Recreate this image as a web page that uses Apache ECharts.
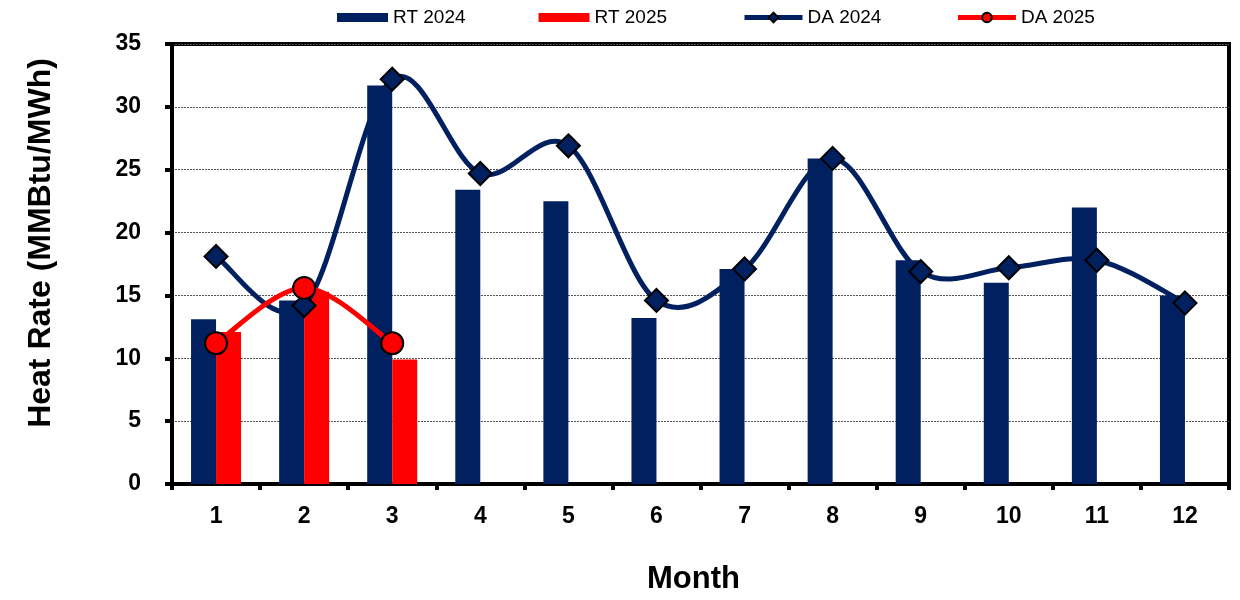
<!DOCTYPE html>
<html>
<head>
<meta charset="utf-8">
<title>Heat Rate by Month</title>
<script src="https://cdn.jsdelivr.net/npm/echarts@6/dist/echarts.min.js"></script>
<style>
  html, body { margin: 0; padding: 0; background: #ffffff; }
  #chart { width: 1240px; height: 600px; }
</style>
</head>
<body>
<div id="chart"></div>
<script>
// Months on the category axis
const months = ['1', '2', '3', '4', '5', '6', '7', '8', '9', '10', '11', '12'];

// Real-time heat rates (bars)
const rt2024 = [13.1, 14.6, 31.7, 23.4, 22.5, 13.2, 17.1, 25.9, 17.8, 16.0, 22.0, 15.0];
const rt2025 = [12.1, 15.3, 9.9, null, null, null, null, null, null, null, null, null];

// Day-ahead heat rates (smoothed lines with markers)
const da2024 = [18.1, 14.2, 32.2, 24.7, 26.9, 14.6, 17.1, 25.9, 16.9, 17.2, 17.8, 14.4];
const da2025 = [11.2, 15.6, 11.2, null, null, null, null, null, null, null, null, null];

// Value axis ticks
const yTicks = { min: 0, max: 35, step: 5 };

const NAVY = '#002060';
const RED = '#ff0000';
const FONT = 'Liberation Sans, Arial, sans-serif';

// Cardinal (Catmull-Rom style) curve: each data item draws the segment to the
// next point, with tangents taken from its neighbours in pixel space.
function curveSeries(id, values, color, z) {
  const has = j => j >= 0 && j < values.length && values[j] != null;
  return {
    id: id,
    type: 'custom',
    silent: true,
    z: z,
    clip: true,
    data: values.map((v, i) => [i, v == null ? '-' : v]),
    encode: { x: 0, y: 1 },
    renderItem: function (params, api) {
      const i = params.dataIndex;
      if (!has(i) || !has(i + 1)) return null;
      const c = j => api.coord([j, values[j]]);
      const p1 = c(i);
      const p2 = c(i + 1);
      const p0 = has(i - 1) ? c(i - 1) : p1;
      const p3 = has(i + 2) ? c(i + 2) : p2;
      return {
        type: 'bezierCurve',
        shape: {
          x1: p1[0], y1: p1[1],
          x2: p2[0], y2: p2[1],
          cpx1: p1[0] + (p2[0] - p0[0]) / 6,
          cpy1: p1[1] + (p2[1] - p0[1]) / 6,
          cpx2: p2[0] - (p3[0] - p1[0]) / 6,
          cpy2: p2[1] - (p3[1] - p1[1]) / 6
        },
        style: { stroke: color, lineWidth: 5, fill: null, lineCap: 'round' }
      };
    }
  };
}

const chart = echarts.init(document.getElementById('chart'), null, { renderer: 'canvas' });

chart.setOption({
  animation: false,
  backgroundColor: '#ffffff',
  textStyle: { fontFamily: FONT, color: '#000' },
  legend: [
    {
      data: ['RT 2024', 'RT 2025'],
      left: 332,
      top: 3,
      itemWidth: 51,
      itemHeight: 9,
      itemGap: 73,
      icon: 'rect',
      textStyle: { fontFamily: FONT, fontSize: 19, color: '#000' }
    },
    {
      data: ['DA 2024', 'DA 2025'],
      left: 737,
      top: 3,
      itemWidth: 58,
      itemHeight: 12,
      itemGap: 74,
      lineStyle: { width: 5, opacity: 1 },
      textStyle: { fontFamily: FONT, fontSize: 19, color: '#000' }
    }
  ],
  grid: {
    left: 172,
    right: 11,
    top: 44,
    bottom: 113,
    show: true,
    borderColor: '#000',
    borderWidth: 4,
    backgroundColor: 'transparent'
  },
  xAxis: {
    type: 'category',
    data: months,
    boundaryGap: true,
    name: 'Month',
    nameLocation: 'middle',
    nameGap: 80,
    nameTextStyle: { fontFamily: FONT, fontSize: 31, fontWeight: 'bold', color: '#000', padding: [0, 14, 0, 0] },
    axisLine: { show: true, lineStyle: { color: '#000', width: 4 } },
    axisTick: { show: true, inside: false, length: 6, alignWithLabel: false, lineStyle: { color: '#000', width: 4 } },
    axisLabel: { fontFamily: FONT, fontSize: 23, fontWeight: 'bold', color: '#000', margin: 21 },
    splitLine: { show: false }
  },
  yAxis: {
    type: 'value',
    min: yTicks.min,
    max: yTicks.max,
    interval: yTicks.step,
    axisLine: { show: true, lineStyle: { color: '#000', width: 4 } },
    axisTick: { show: true, inside: false, length: 7, lineStyle: { color: '#000', width: 4 } },
    axisLabel: { fontFamily: FONT, fontSize: 23, fontWeight: 'bold', color: '#000', margin: 31 },
    splitLine: { show: true, lineStyle: { color: '#555', width: 1, type: [2, 1] } }
  },
  graphic: [
    {
      type: 'text',
      x: 41,
      y: 243,
      rotation: Math.PI / 2,
      style: {
        text: 'Heat Rate (MMBtu/MWh)',
        fontFamily: FONT,
        fontSize: 32,
        fontWeight: 'bold',
        fill: '#000',
        align: 'center',
        verticalAlign: 'middle'
      }
    }
  ],
  series: [
    {
      name: 'RT 2024',
      type: 'bar',
      data: rt2024,
      barWidth: 25,
      barGap: '0%',
      itemStyle: { color: NAVY },
      z: 2
    },
    {
      name: 'RT 2025',
      type: 'bar',
      data: rt2025,
      barWidth: 25,
      barGap: '0%',
      itemStyle: { color: RED },
      z: 2
    },
    curveSeries('da2024-curve', da2024, NAVY, 3),
    {
      name: 'DA 2024',
      type: 'line',
      data: da2024,
      symbol: 'diamond',
      symbolSize: 23,
      lineStyle: { color: NAVY, width: 5, opacity: 0 },
      itemStyle: { color: NAVY, borderColor: '#000', borderWidth: 2 },
      z: 4
    },
    curveSeries('da2025-curve', da2025, RED, 5),
    {
      name: 'DA 2025',
      type: 'line',
      data: da2025,
      symbol: 'circle',
      symbolSize: 22,
      lineStyle: { color: RED, width: 5, opacity: 0 },
      itemStyle: { color: RED, borderColor: '#000', borderWidth: 2 },
      z: 6
    }
  ]
});
</script>
</body>
</html>
